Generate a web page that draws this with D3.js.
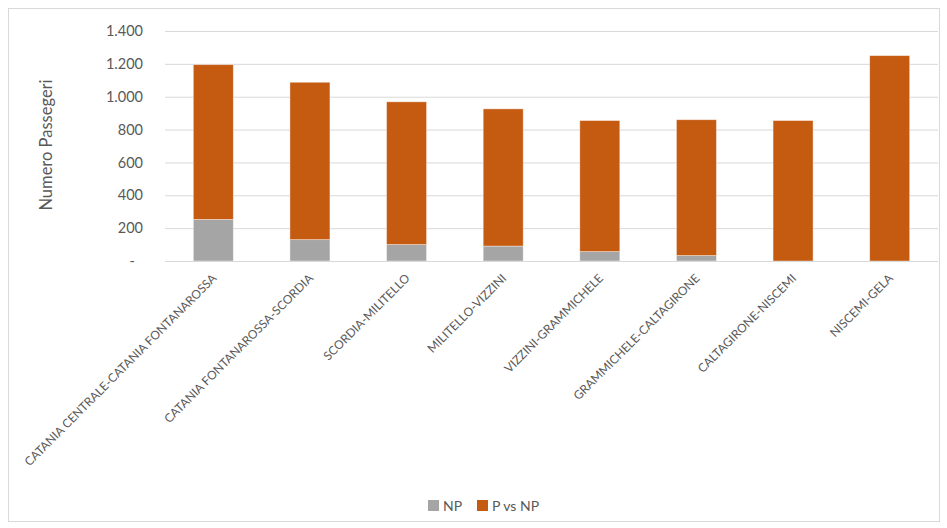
<!DOCTYPE html>
<html><head><meta charset="utf-8">
<script src="https://cdn.jsdelivr.net/npm/d3@7"></script>
<style>html,body{margin:0;padding:0;background:#fff;}svg{display:block;font-family:Lato,"Liberation Sans",sans-serif;}</style>
</head><body><svg id="c" width="947" height="528"></svg>
<script>
const categories = ["CATANIA CENTRALE-CATANIA FONTANAROSSA","CATANIA FONTANAROSSA-SCORDIA","SCORDIA-MILITELLO","MILITELLO-VIZZINI","VIZZINI-GRAMMICHELE","GRAMMICHELE-CALTAGIRONE","CALTAGIRONE-NISCEMI","NISCEMI-GELA"];
const npValues = [253,130,100,91,57,33,0,0];
const pvsnpValues = [942,958,869,835,798,827,855,1250];
const seriesNames = ["NP","P vs NP"];
const seriesColors = ["#a5a5a5","#c55a11"];
const yTicks = [0,200,400,600,800,1000,1200,1400];
const yTitle = "Numero Passegeri";

const svg = d3.select("#c");
const plotTop = 31, plotBottom = 261;

svg.append("rect").attr("x",8.5).attr("y",8.5).attr("width",931).attr("height",513)
  .attr("fill","#fff").attr("stroke","#d9d9d9");

const x = d3.scaleBand().domain(categories).range([165,938]).paddingInner(0.586).paddingOuter(0.293);
const y = d3.scaleLinear().domain([0,1400]).range([plotBottom,plotTop]);
const loc = d3.formatLocale({decimal:",",thousands:".",grouping:[3],currency:["€",""]});
const fmt = v => v===0 ? "-" : loc.format(",")(v);

const yAxis = d3.axisLeft(y).tickValues(yTicks).tickSize(-(938-165)).tickFormat(fmt).tickPadding(22);
const gy = svg.append("g").attr("transform","translate(165,0)").call(yAxis);
gy.select(".domain").remove();
gy.selectAll(".tick line").attr("stroke","#d9d9d9").attr("stroke-width",1);
gy.selectAll(".tick text").attr("fill","#595959").style("font-size","14.5px").style("font-family","Lato,'Liberation Sans',sans-serif");
gy.selectAll(".tick text").filter(d=>d===0).attr("dx","-8");

const data = categories.map((c,i)=>({cat:c, "NP":npValues[i], "P vs NP":pvsnpValues[i]}));
const stack = d3.stack().keys(seriesNames)(data);
svg.append("g").selectAll("g").data(stack).join("g")
  .attr("fill",(d,i)=>seriesColors[i])
  .selectAll("rect").data(d=>d).join("rect")
  .attr("x",d=>x(d.data.cat)).attr("width",x.bandwidth())
  .attr("y",d=>y(d[1])).attr("height",d=>Math.max(0,y(d[0])-y(d[1])))
  .attr("stroke","#ffffff").attr("stroke-opacity",0.5).attr("stroke-width",0.8);

svg.append("line").attr("x1",165).attr("x2",938).attr("y1",plotBottom+0.5).attr("y2",plotBottom+0.5).attr("stroke","#d9d9d9");

const xAxis = d3.axisBottom(x).tickSize(0).tickPadding(0);
const gx = svg.append("g").attr("transform",`translate(0,${plotBottom})`).call(xAxis);
gx.select(".domain").remove();
gx.selectAll(".tick text")
  .attr("fill","#595959").style("font-size","12px").style("font-family","Lato,'Liberation Sans',sans-serif")
  .attr("text-anchor","end").attr("dy",null).attr("y",0)
  .attr("transform","translate(4,18) rotate(-45)");

svg.append("text").attr("transform","translate(52,145) rotate(-90)").attr("text-anchor","middle")
  .attr("fill","#595959").style("font-size","16.5px").text(yTitle);

const legX = [428, 477];
const lg = svg.append("g");
seriesNames.forEach((n,i)=>{
  lg.append("rect").attr("x",legX[i]).attr("y",500).attr("width",11).attr("height",11).attr("fill",seriesColors[i]);
  lg.append("text").attr("x",legX[i]+15).attr("y",510.5).attr("fill","#595959").style("font-size","14px").text(n);
});
</script></body></html>
